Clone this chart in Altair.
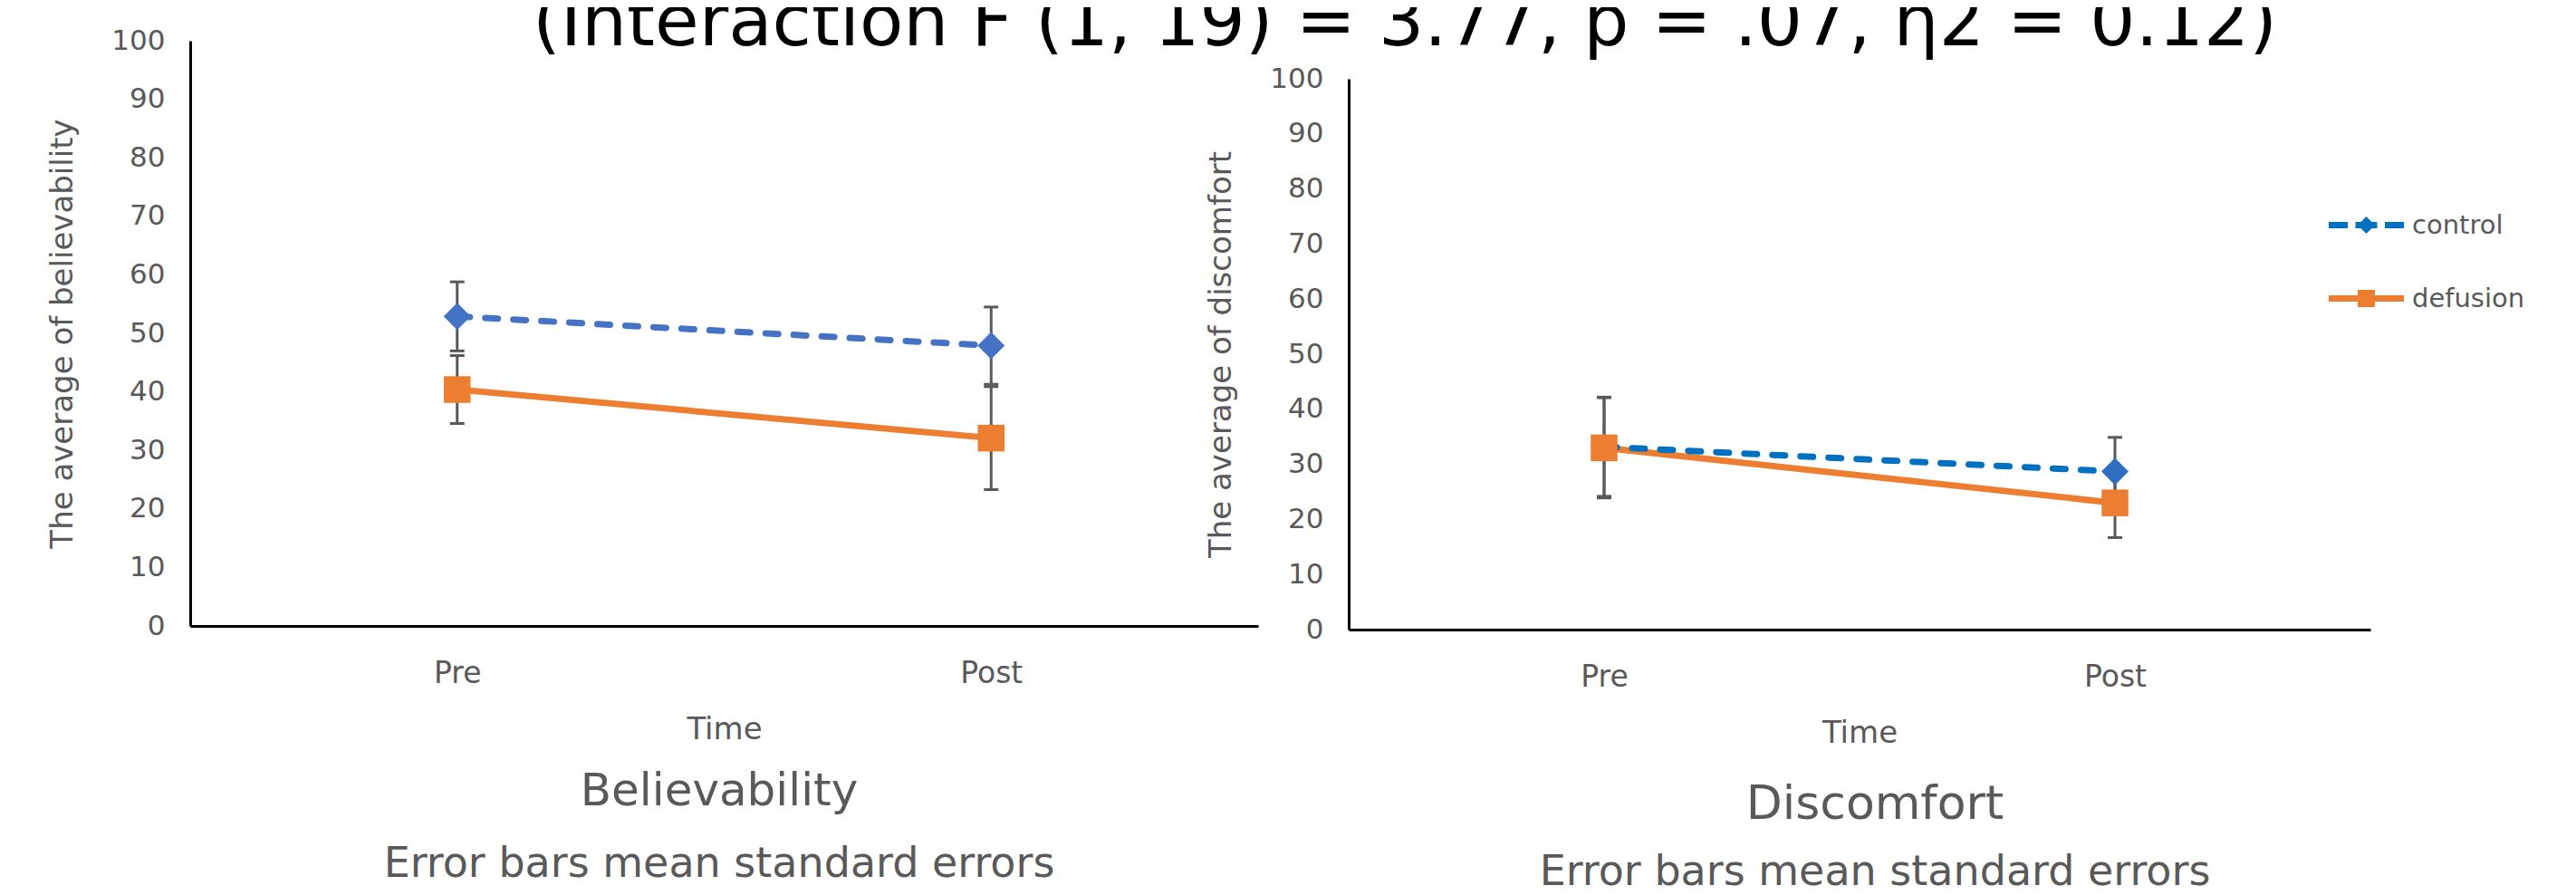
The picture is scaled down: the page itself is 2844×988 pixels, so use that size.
import altair as alt
import pandas as pd

# ---------------- data ----------------
times = ["Pre", "Post"]
groups = ["control", "defusion"]

bel_control_mean = [52.9, 47.9]
bel_control_se = [5.9, 6.6]
bel_defusion_mean = [40.4, 32.1]
bel_defusion_se = [5.8, 8.8]

dis_control_mean = [33.2, 28.7]
dis_control_se = [9.0, 6.2]
dis_defusion_mean = [33.0, 23.0]
dis_defusion_se = [9.1, 6.3]

y_ticks = list(range(0, 101, 10))

titles_left = ["Believability", "Error bars mean standard errors"]
titles_right = ["Discomfort", "Error bars mean standard errors"]
ytitle_left = "The average of believability"
ytitle_right = "The average of discomfort"
top_text = ["(Interaction F (1, 19) = 3.77, p = .07, \u03b72 = 0.12)"]

FONT = "DejaVu Sans"
GREY = "#595959"
ORANGE = "#ED7D31"


def panel_df(cm, cs, dm, ds):
    rows = []
    for g, m, s in (("control", cm, cs), ("defusion", dm, ds)):
        for t, mv, sv in zip(times, m, s):
            rows.append({"time": t, "group": g, "mean": mv, "lo": mv - sv, "hi": mv + sv})
    return pd.DataFrame(rows)


def make_panel(df, xr, yr, ytitle, ctrl_line, ctrl_marker, caption, cap_x, cap_y, sub_y, cap_size):
    H = 972
    X = alt.X(
        "time:N", sort=times,
        scale=alt.Scale(type="point", domain=times, range=xr, padding=0.5),
        axis=alt.Axis(orient="bottom", offset=-(H - yr[0]), ticks=False, tickSize=0,
                      domainColor="#000000", domainWidth=3, labelAngle=0,
                      labelFont=FONT, labelFontSize=33, labelColor=GREY, labelPadding=36,
                      title="Time", titleFont=FONT, titleFontSize=34, titleFontWeight="normal",
                      titleColor=GREY, titlePadding=28),
    )

    def Y(field):
        return alt.Y(
            f"{field}:Q",
            scale=alt.Scale(domain=[0, 100], range=yr, nice=False, zero=False),
            axis=alt.Axis(orient="left", offset=-xr[0], values=y_ticks, ticks=False, tickSize=0,
                          grid=False, domainColor="#000000", domainWidth=3,
                          labelFont=FONT, labelFontSize=31, labelColor=GREY, labelPadding=28,
                          title=ytitle, titleFont=FONT, titleFontSize=34,
                          titleFontWeight="normal", titleColor=GREY, titlePadding=36),
        )

    base = alt.Chart(df)
    err_rule = base.mark_rule(color=GREY, strokeWidth=3).encode(x=X, y=Y("lo"), y2=alt.Y2("hi:Q"))
    err_lo = base.mark_tick(color=GREY, size=16, thickness=3, opacity=1, orient="horizontal").encode(x=X, y=Y("lo"))
    err_hi = base.mark_tick(color=GREY, size=16, thickness=3, opacity=1, orient="horizontal").encode(x=X, y=Y("hi"))

    line_d = base.transform_filter(alt.datum.group == "defusion").mark_line(
        color=ORANGE, strokeWidth=7).encode(x=X, y=Y("mean"))
    line_c = base.transform_filter(alt.datum.group == "control").mark_line(
        color=ctrl_line, strokeWidth=7, strokeDash=[14, 17], strokeCap="round").encode(x=X, y=Y("mean"))
    pts_c = base.transform_filter(alt.datum.group == "control").mark_point(
        filled=True, shape="diamond", size=900, color=ctrl_marker, opacity=1).encode(x=X, y=Y("mean"))
    pts_d = base.transform_filter(alt.datum.group == "defusion").mark_point(
        filled=True, shape="square", size=870, color=ORANGE, opacity=1).encode(x=X, y=Y("mean"))

    cap = alt.Chart(pd.DataFrame({"c": [caption[0]]})).mark_text(
        font=FONT, fontSize=cap_size, color=GREY, align="center", baseline="alphabetic"
    ).encode(text="c:N", x=alt.value(cap_x), y=alt.value(cap_y))
    sub = alt.Chart(pd.DataFrame({"c": [caption[1]]})).mark_text(
        font=FONT, fontSize=46, color=GREY, align="center", baseline="alphabetic"
    ).encode(text="c:N", x=alt.value(cap_x), y=alt.value(sub_y))

    return [err_rule, err_lo, err_hi, line_d, line_c, pts_c, pts_d, cap, sub]


left_df = panel_df(bel_control_mean, bel_control_se, bel_defusion_mean, bel_defusion_se)
right_df = panel_df(dis_control_mean, dis_control_se, dis_defusion_mean, dis_defusion_se)

left_layers = make_panel(left_df, [202, 1381], [683, 37], ytitle_left, "#4472C4", "#4472C4",
                         titles_left, 786, 881, 960, 50)
right_layers = make_panel(right_df, [1481, 2609], [687, 79], ytitle_right, "#0070C0", "#2E6FC2",
                          titles_right, 2062, 896, 969, 52)


# legend symbols: dashed / solid line with marker, drawn as filled custom paths
def rect(x1, x2):
    return f"M{x1},-0.35L{x2},-0.35L{x2},0.35L{x1},0.35Z"


path_control = rect(-4.15, -2.05) + rect(-1.2, 1.2) + rect(2.05, 4.15) + "M0,-0.95L0.95,0L0,0.95L-0.95,0Z"
path_defusion = rect(-4.15, 4.15) + "M-0.95,-0.95L0.95,-0.95L0.95,0.95L-0.95,0.95Z"

leg = alt.Legend(title=None, orient="none", legendX=2590, legendY=226, symbolSize=400,
                 labelOffset=36, labelFont=FONT, labelFontSize=29, labelColor=GREY,
                 rowPadding=51, padding=0, symbolStrokeWidth=0)
legend_layer = alt.Chart(right_df).transform_filter("false").mark_point(filled=True, opacity=1).encode(
    color=alt.Color("group:N", scale=alt.Scale(domain=groups, range=["#0070C0", ORANGE]), legend=leg),
    shape=alt.Shape("group:N", scale=alt.Scale(domain=groups, range=[path_control, path_defusion]), legend=leg),
)

top = alt.Chart(pd.DataFrame({"t": top_text})).mark_text(
    font=FONT, fontSize=79, color="#000000", align="center", baseline="alphabetic"
).encode(text="t:N", x=alt.value(1543), y=alt.value(42))

left = alt.layer(*left_layers, top)
right = alt.layer(*right_layers, legend_layer)

chart = alt.layer(left, right).resolve_scale(
    x="independent", y="independent"
).properties(
    width=2828, height=972, autosize=alt.AutoSizeParams(type="none"), padding=0, background="white"
).configure_view(stroke=None)

chart.save("out.html", embed_options={"renderer": "svg", "actions": False})
